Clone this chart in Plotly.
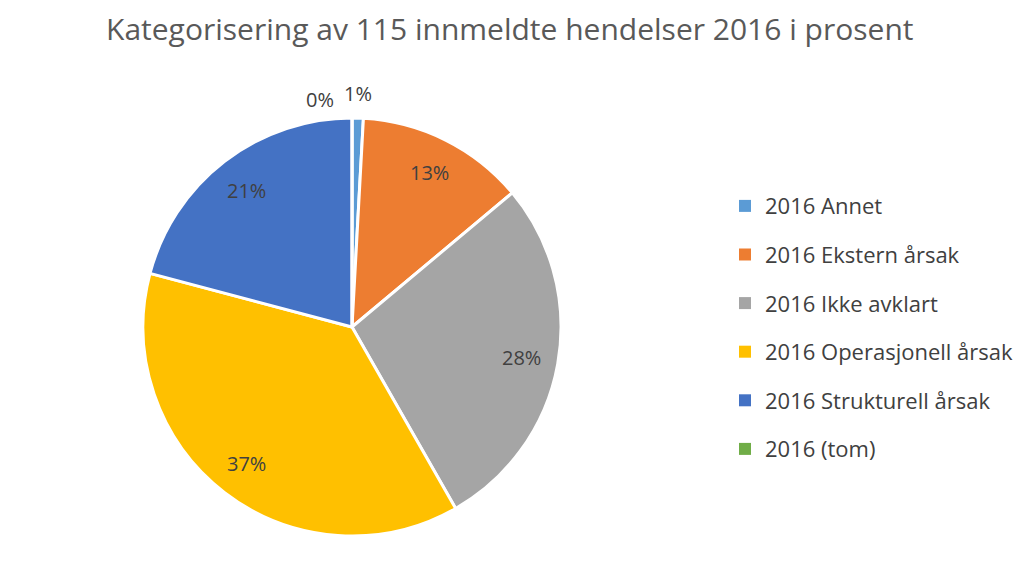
import math
import plotly.graph_objects as go

categories = ["2016 Annet", "2016 Ekstern årsak", "2016 Ikke avklart",
              "2016 Operasjonell årsak", "2016 Strukturell årsak", "2016 (tom)"]
counts = [1, 15, 32, 43, 24, 0]
colors = ["#5B9BD5", "#ED7D31", "#A5A5A5", "#FFC000", "#4472C4", "#70AD47"]

FONT = "Open Sans"
TXT = "#404040"
W, H = 1024, 564
CX, CY, R = 344, 319, 209  # pie centre / radius in figure pixels

fig = go.Figure()
fig.add_trace(go.Pie(
    labels=categories, values=counts, sort=False, direction="clockwise", rotation=0,
    marker=dict(colors=colors, line=dict(color="white", width=3)),
    textinfo="none", showlegend=False, hoverinfo="label+value+percent",
    domain=dict(x=[(CX - R) / W, (CX + R) / W], y=[1 - (CY + R) / H, 1 - (CY - R) / H]),
))

# data labels (percent), placed like Excel's best-fit labels
total = sum(counts)
cum = 0
for i, v in enumerate(counts):
    mid = (cum + v / 2) / total * 2 * math.pi
    cum += v
    pct = f"{round(100 * v / total)}%"
    small = v / total < 0.03
    r = 1.12 * R if small else 0.825 * R
    fig.add_annotation(
        x=(CX + r * math.sin(mid)) / W, y=1 - (CY - r * math.cos(mid)) / H,
        xref="paper", yref="paper", text=pct, showarrow=False,
        xshift=-32 if v == 0 else 0, yshift=-7 if v == 0 else 0,
        font=dict(family=FONT, size=20, color=TXT), xanchor="center", yanchor="middle",
    )

for i, (c, col) in enumerate(zip(categories, colors)):
    fig.add_trace(go.Scatter(
        x=[None], y=[None], mode="markers", name=c, legendgroup=str(i),
        marker=dict(symbol="square", size=9, color=col),
    ))

fig.update_layout(
    width=W, height=H,
    margin=dict(l=0, r=0, t=0, b=0),
    paper_bgcolor="white", plot_bgcolor="white",
    title=dict(text="Kategorisering av 115 innmeldte hendelser 2016 i prosent",
               x=0.49, xanchor="center", y=0.962, yanchor="middle",
               font=dict(family=FONT, size=30, color="#595959")),
    legend=dict(x=0.7002, y=0.686, xanchor="left", yanchor="top",
                font=dict(family=FONT, size=22, color=TXT),
                tracegroupgap=17, itemsizing="constant"),
    xaxis=dict(visible=False), yaxis=dict(visible=False),
)

fig.write_html("out.html")
